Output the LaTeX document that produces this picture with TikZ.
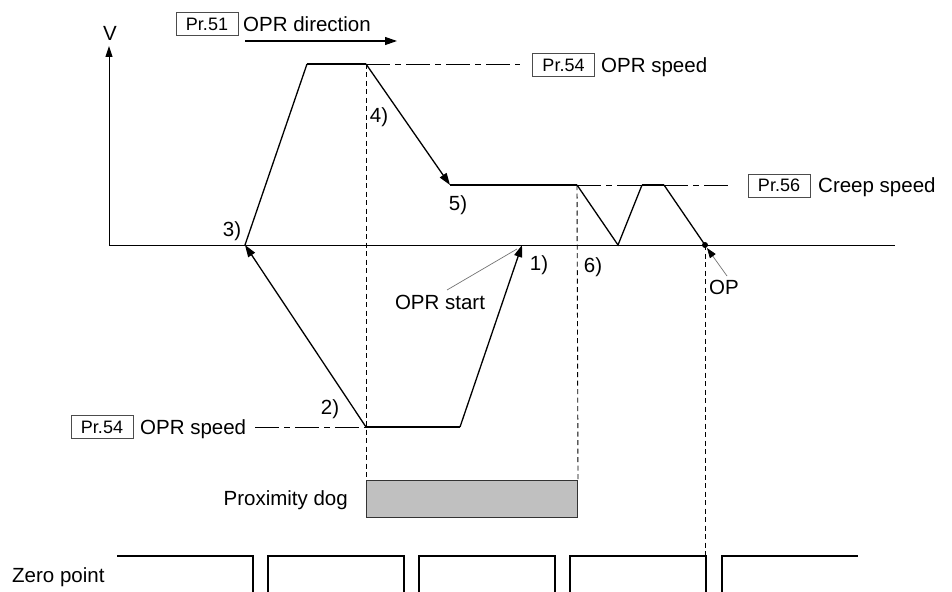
\documentclass[tikz,border=0pt]{standalone}
\usepackage{fontspec}
\setmainfont{Liberation Sans}
\usetikzlibrary{arrows.meta}
\definecolor{dogfill}{HTML}{C0C0C0}
\begin{document}
\begin{tikzpicture}[x=1pt,y=-1pt,
  lbl/.style={font=\fontsize{20.5}{24}\selectfont, inner sep=0pt, text height=14.7pt, text depth=0pt},
  prbox/.style={draw=black!70, line width=0.7pt, font=\fontsize{18}{20}\selectfont, minimum width=62pt, minimum height=23pt, inner sep=0pt},
  axisline/.style={line width=1pt},
  slope/.style={line width=1.3pt},
  plat/.style={line width=2.3pt},
  dashdot/.style={line width=0.9pt, dash pattern=on 24pt off 5pt on 6pt off 5pt},
  vdash/.style={line width=0.9pt, dash pattern=on 5pt off 3.5pt},
  tip/.style={-{Triangle[length=12pt,width=8pt]}},
  lead/.style={draw=black!55, line width=0.7pt},
  pulse/.style={line width=2pt},
  dogbox/.style={draw=black!80, line width=1pt, fill=dogfill, minimum width=211pt, minimum height=37pt, inner sep=0pt, anchor=north west}]
\useasboundingbox (0,0) rectangle (952,591);
% key points
\coordinate (O) at (109,245);
\coordinate (Vtop) at (109,46);
\coordinate (Xend) at (895,245);
\coordinate (P1) at (522,245);
\coordinate (P3) at (245,245);
\coordinate (T1) at (307,64);
\coordinate (T2) at (366,64);
\coordinate (P5) at (450,185);
\coordinate (C1) at (577,185);
\coordinate (V1) at (618,245);
\coordinate (C2) at (642,185);
\coordinate (C3) at (664,185);
\coordinate (OP) at (705,245);
\coordinate (L1) at (366,427);
\coordinate (L2) at (460,427);
\coordinate (Z4) at (705,556);
% axes
\draw[axisline] (O) -- (Xend);
\draw[axisline,-{Triangle[length=11pt,width=7pt]}] (O) -- (Vtop);
\node[lbl] (vlab) at (110,33) {V};
% direction label
\node[prbox] (pr51) at (207,24) {Pr.51};
\node[lbl,anchor=west] (dirtxt) at (243,24) {OPR direction};
\coordinate (dirA) at (245,41);
\coordinate (dirB) at (397,41);
\draw[line width=1.2pt,tip] (dirA) -- (dirB);
% upper OPR speed
\node[prbox] (pr54a) at (563.5,65) {Pr.54};
\node[lbl,anchor=west] (spdA) at (601,65) {OPR speed};
\coordinate (ddA) at (520,64);
\draw[dashdot] (T2) -- (ddA);
% creep speed
\node[prbox] (pr56) at (779,185.5) {Pr.56};
\node[lbl,anchor=west] (creep) at (818,185.5) {Creep speed};
\coordinate (ddC) at (732,185);
\draw[dashdot] (C1) -- (C2);
\draw[dashdot] (C3) -- (ddC);
% lower OPR speed
\node[prbox] (pr54b) at (102,427) {Pr.54};
\node[lbl,anchor=west] (spdB) at (140,427) {OPR speed};
\coordinate (ddB) at (255,427);
\draw[dashdot] (ddB) -- (L1);
% proximity dog
\node[dogbox] (dog) at (366,480) {};
\node[lbl,anchor=east] (doglab) at (348,498) {Proximity dog};
% vertical dashed guides
\draw[vdash] (T2) -- (dog.north west);
\draw[vdash] (C1) -- (dog.north east);
\draw[vdash] (OP) -- (Z4);
% motion curve
\draw[slope,tip] (L2) -- (P1);
\draw[plat] (L1) -- (L2);
\draw[slope,tip] (L1) -- (P3);
\draw[slope] (P3) -- (T1);
\draw[plat] (T1) -- (T2);
\draw[slope,tip] (T2) -- (P5);
\draw[plat] (P5) -- (C1);
\draw[slope] (C1) -- (V1) -- (C2);
\draw[plat] (C2) -- (C3);
\draw[slope] (C3) -- (OP);
\fill (OP) circle (3pt);
% leaders
\node[lbl] (oprstart) at (440,302) {OPR start};
\coordinate (osA) at (447,290);
\coordinate (osB) at (517,249);
\draw[lead] (osA) -- (osB);
\node[lbl] (oplab) at (724,287) {OP};
\coordinate (opA) at (727,276);
\coordinate (opB) at (707,248);
\draw[lead,-{Triangle[length=10pt,width=7pt,color=black]}] (opA) -- (opB);
% step labels
\node[lbl] (s1) at (539,263) {1)};
\node[lbl] (s2) at (330,407) {2)};
\node[lbl] (s3) at (232,229) {3)};
\node[lbl] (s4) at (379,115) {4)};
\node[lbl] (s5) at (458,203) {5)};
\node[lbl] (s6) at (593,265) {6)};
% zero point
\node[lbl,anchor=west] (zp) at (12,575) {Zero point};
\draw[pulse] (117,556) -- (253,556) -- (253,592);
\foreach \a/\b in {268/404, 419/555, 570/706}{
  \draw[pulse] (\a,592) -- (\a,556) -- (\b,556) -- (\b,592);
}
\draw[pulse] (722,592) -- (722,556) -- (858,556);
\end{tikzpicture}
\end{document}
